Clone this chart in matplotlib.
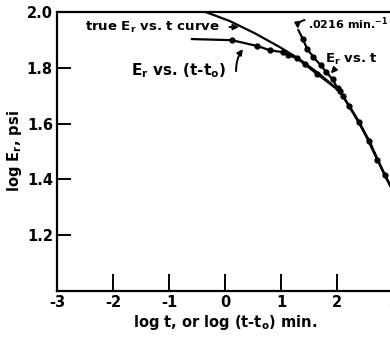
import matplotlib.pyplot as plt

plt.rcParams['font.family'] = 'DejaVu Sans'
plt.rcParams['font.weight'] = 'bold'

# true relaxation modulus curve, log Er vs log t
true_logt = [-0.40, 0.08, 0.53, 0.98, 1.33, 1.69, 2.05, 2.22, 2.40, 2.58, 2.72, 2.85, 2.97]
true_logE = [2.004, 1.968, 1.924, 1.874, 1.831, 1.777, 1.716, 1.662, 1.604, 1.536, 1.471, 1.417, 1.370]

# Er plotted against log (t - t0)
shift_logt = [-0.59, 0.12, 0.58, 0.80, 1.03, 1.12, 1.28, 1.42, 1.65, 2.05, 2.22, 2.58, 2.85, 2.97]
shift_logE = [1.903, 1.899, 1.878, 1.863, 1.856, 1.845, 1.835, 1.813, 1.777, 1.716, 1.662, 1.536, 1.417, 1.370]
shift_dots = [1, 2, 3, 4, 5, 6, 7, 8, 9, 10, 11, 12]

# Er plotted against log t
raw_logt = [1.31, 1.39, 1.47, 1.58, 1.71, 1.81, 1.92, 2.01, 2.10, 2.40, 2.72, 2.97]
raw_logE = [1.935, 1.903, 1.867, 1.838, 1.809, 1.784, 1.759, 1.727, 1.700, 1.604, 1.471, 1.370]
raw_dots = [1, 2, 3, 4, 5, 6, 7, 8, 9, 10]

xticks = [-3, -2, -1, 0, 1, 2, 3]
yticks = [1.2, 1.4, 1.6, 1.8, 2.0]

fig = plt.figure(figsize=(3.9, 3.39), dpi=100)
ax = fig.add_axes([57 / 390, 48 / 339, 336 / 390, 279 / 339])

ax.plot(true_logt, true_logE, color='black', lw=1.6)
ax.plot(shift_logt, shift_logE, color='black', lw=1.6)
ax.plot([shift_logt[i] for i in shift_dots], [shift_logE[i] for i in shift_dots],
        'o', color='black', ms=3.5)
ax.plot(raw_logt, raw_logE, color='black', lw=1.6)
ax.plot([raw_logt[i] for i in raw_dots], [raw_logE[i] for i in raw_dots],
        'o', color='black', ms=3.5)

ax.set_xlim(-3, 3)
ax.set_ylim(1.0, 2.0)
ax.set_xticks(xticks)
ax.set_xticklabels([str(v) for v in xticks])
ax.set_yticks(yticks)
ax.set_yticklabels(['%.1f' % v for v in yticks])
ax.tick_params(axis='x', direction='in', length=12, width=1.4, labelsize=10.5, pad=3)
ax.tick_params(axis='y', direction='in', length=10, width=1.4, labelsize=10.5, pad=3)
for s in ['left', 'bottom', 'top']:
    ax.spines[s].set_linewidth(1.6)
ax.spines['right'].set_visible(False)

ax.set_xlabel(r'log t, or log (t-t$_\mathbf{o}$) min.', fontsize=10.5, fontweight='bold', labelpad=2)
ax.set_ylabel(r'log E$_\mathbf{r}$, psi', fontsize=10.5, fontweight='bold', labelpad=2)

arrow = dict(arrowstyle='-|>', color='black', lw=1.4, mutation_scale=8)

ax.text(-2.50, 1.946, r'true E$_\mathbf{r}$ vs. t curve', fontsize=9.5, va='center', ha='left')
ax.annotate('', xy=(0.30, 1.946), xytext=(0.03, 1.946), arrowprops=arrow)

ax.text(-1.68, 1.790, r'E$_\mathbf{r}$ vs. (t-t$_\mathbf{o}$)', fontsize=11, va='center', ha='left')
ax.annotate('', xy=(0.35, 1.875), xytext=(0.20, 1.778),
            arrowprops=dict(arrow, connectionstyle='arc3,rad=-0.2'))

ax.text(1.78, 1.831, r'E$_\mathbf{r}$ vs. t', fontsize=9.5, va='center', ha='left')
ax.annotate('', xy=(1.86, 1.772), xytext=(2.00, 1.805), arrowprops=arrow)

ax.text(1.49, 1.957, r'.0216 min.$^{\mathbf{-1}}$', fontsize=8, va='center', ha='left')
ax.annotate('', xy=(1.31, 1.930), xytext=(1.47, 1.972),
            arrowprops=dict(arrow, connectionstyle='arc3,rad=0.6'))

fig.savefig('out.png', dpi=100)
